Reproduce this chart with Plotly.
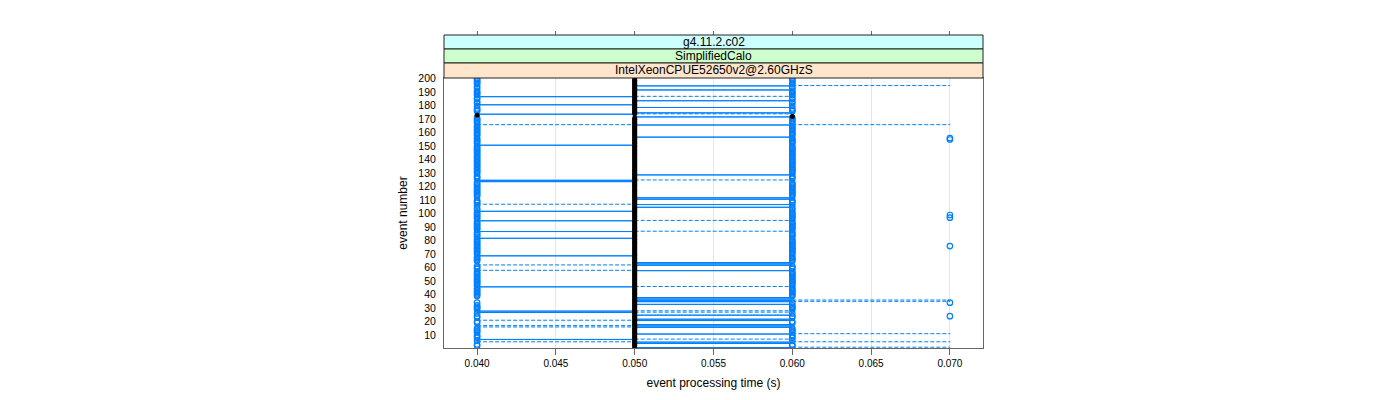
import plotly.graph_objects as go

# ---------------- data ----------------
events = list(range(1, 201))

# events whose box differs from the typical (all-at-0.050) one
special_events = [195, 192, 187, 184, 181, 179, 175, 174, 173, 172, 166, 157, 151, 129,
                  125, 124, 112, 111, 107, 105, 102, 95, 87, 82, 69, 64, 63, 62, 58, 46,
                  38, 37, 36, 35, 33, 28, 27, 25, 22, 21, 18, 17, 16, 11, 7, 5, 4, 1]
lower = [0.05, 0.05, 0.04, 0.05, 0.04, 0.05, 0.05, 0.04, 0.04, 0.05, 0.04, 0.05, 0.04, 0.05,
         0.04, 0.04, 0.05, 0.05, 0.04, 0.05, 0.04, 0.04, 0.04, 0.04, 0.04, 0.05, 0.05, 0.04, 0.04, 0.04,
         0.05, 0.05, 0.05, 0.05, 0.05, 0.04, 0.04, 0.05, 0.05, 0.04, 0.05, 0.04, 0.04, 0.05, 0.04, 0.04, 0.05, 0.05]
q1 = [0.05, 0.05, 0.04, 0.05, 0.04, 0.05, 0.05, 0.04, 0.04, 0.05, 0.05, 0.05, 0.04, 0.05,
      0.04, 0.04, 0.05, 0.05, 0.05, 0.05, 0.04, 0.04, 0.04, 0.04, 0.04, 0.05, 0.05, 0.05, 0.05, 0.04,
      0.05, 0.05, 0.05, 0.05, 0.05, 0.04, 0.04, 0.05, 0.05, 0.05, 0.05, 0.05, 0.05, 0.05, 0.04, 0.05, 0.05, 0.05]
median = [0.05, 0.05, 0.05, 0.05, 0.05, 0.05, 0.05, 0.05, 0.04, 0.06, 0.05, 0.05, 0.05, 0.05,
          0.05, 0.05, 0.05, 0.05, 0.05, 0.05, 0.05, 0.05, 0.05, 0.05, 0.05, 0.05, 0.05, 0.05, 0.05, 0.05,
          0.05, 0.05, 0.05, 0.05, 0.05, 0.05, 0.05, 0.05, 0.05, 0.05, 0.05, 0.05, 0.05, 0.05, 0.05, 0.05, 0.05, 0.05]
q3 = [0.06, 0.06, 0.05, 0.06, 0.05, 0.06, 0.06, 0.05, 0.04, 0.06, 0.06, 0.06, 0.05, 0.06,
      0.05, 0.05, 0.06, 0.06, 0.06, 0.06, 0.05, 0.05, 0.05, 0.05, 0.05, 0.06, 0.06, 0.06, 0.06, 0.05,
      0.06, 0.06, 0.06, 0.06, 0.06, 0.05, 0.05, 0.06, 0.06, 0.06, 0.06, 0.06, 0.06, 0.06, 0.05, 0.06, 0.06, 0.06]
upper = [0.07, 0.06, 0.06, 0.06, 0.05, 0.06, 0.06, 0.06, 0.04, 0.06, 0.07, 0.06, 0.05, 0.06,
         0.06, 0.05, 0.06, 0.06, 0.06, 0.06, 0.05, 0.06, 0.06, 0.05, 0.05, 0.06, 0.06, 0.06, 0.06, 0.06,
         0.06, 0.06, 0.07, 0.07, 0.06, 0.06, 0.06, 0.06, 0.06, 0.06, 0.06, 0.06, 0.06, 0.07, 0.06, 0.07, 0.06, 0.07]

# typical event: all quartiles at 0.050, points at 0.040 / 0.060 are outliers
typical_stat = 0.05
typical_outliers = [0.04, 0.06]
# extra outliers at 0.070
outlier07_events = [156, 155, 99, 97, 76, 34, 24]
outlier07_value = 0.07

x_ticks = [0.040, 0.045, 0.050, 0.055, 0.060, 0.065, 0.070]
x_ticklabels = ["0.040", "0.045", "0.050", "0.055", "0.060", "0.065", "0.070"]
y_ticks = list(range(10, 201, 10))
strip_labels = ["g4.11.2.c02", "SimplifiedCalo", "IntelXeonCPUE52650v2@2.60GHzS"]
strip_colors = ["#ccffff", "#ccffcc", "#ffe5cc"]

# ---------------- build summaries ----------------
stats = {}
for e in events:
    stats[e] = dict(lo=typical_stat, q1=typical_stat, med=typical_stat, q3=typical_stat,
                    hi=typical_stat, out=list(typical_outliers))
for i, e in enumerate(special_events):
    stats[e] = dict(lo=lower[i], q1=q1[i], med=median[i], q3=q3[i], hi=upper[i], out=[])
for e in outlier07_events:
    stats[e]["out"].append(outlier07_value)

BLUE = "#0080ff"
hw = 0.25
box_x, box_y, wh_x, wh_y, cap_x, cap_y = [], [], [], [], [], []
med_x, med_y, out_x, out_y = [], [], [], []
for e in events:
    s = stats[e]
    box_x += [s["q1"], s["q3"], s["q3"], s["q1"], s["q1"], None]
    box_y += [e - hw, e - hw, e + hw, e + hw, e - hw, None]
    if s["lo"] < s["q1"]:
        wh_x += [s["lo"], s["q1"], None]
        wh_y += [e, e, None]
        cap_x += [s["lo"], s["lo"], None]
        cap_y += [e - hw, e + hw, None]
    if s["hi"] > s["q3"]:
        wh_x += [s["q3"], s["hi"], None]
        wh_y += [e, e, None]
        cap_x += [s["hi"], s["hi"], None]
        cap_y += [e - hw, e + hw, None]
    med_x.append(s["med"])
    med_y.append(e)
    for o in s["out"]:
        out_x.append(o)
        out_y.append(e)

fig = go.Figure()
fig.add_trace(go.Scatter(x=wh_x, y=wh_y, mode="lines",
                         line=dict(color=BLUE, width=1, dash="4px,2px"), hoverinfo="skip"))
fig.add_trace(go.Scatter(x=cap_x, y=cap_y, mode="lines",
                         line=dict(color=BLUE, width=1), hoverinfo="skip"))
fig.add_trace(go.Scatter(x=box_x, y=box_y, mode="lines",
                         line=dict(color=BLUE, width=1), hoverinfo="skip"))
fig.add_trace(go.Scatter(x=out_x, y=out_y, mode="markers",
                         marker=dict(symbol="circle-open", size=5.5, color=BLUE, line=dict(width=1.2))))
fig.add_trace(go.Scatter(x=med_x, y=med_y, mode="markers",
                         marker=dict(symbol="circle", size=5, color="black", line=dict(width=0))))
# companion trace so the top tick axis exists
fig.add_trace(go.Scatter(x=[], y=[], xaxis="x2", yaxis="y", hoverinfo="skip"))

H_PLOT = 313.0
dom_top = 270.0 / H_PLOT
strip_bounds = [1.0, 299.0 / H_PLOT, 285.0 / H_PLOT, dom_top]

shapes = []
annotations = []
for i, (lab, col) in enumerate(zip(strip_labels, strip_colors)):
    y1 = strip_bounds[i]
    y0 = strip_bounds[i + 1]
    shapes.append(dict(type="rect", xref="paper", yref="paper", x0=0, x1=1, y0=y0, y1=y1,
                       fillcolor=col, line=dict(color="#222222", width=1), layer="above"))
    annotations.append(dict(xref="paper", yref="paper", x=0.5, y=(y0 + y1) / 2, text=lab,
                            showarrow=False, font=dict(size=12, color="black",
                                                       family="Liberation Sans, Arial, sans-serif"),
                            xanchor="center", yanchor="middle"))

x_range = [0.0379, 0.0721]
fig.update_layout(
    width=1400, height=400,
    margin=dict(l=436, r=425, t=27, b=60),
    paper_bgcolor="white", plot_bgcolor="white",
    showlegend=False,
    font=dict(family="Liberation Sans, Arial, sans-serif", color="black", size=10),
    shapes=shapes, annotations=annotations,
    xaxis=dict(range=x_range, tickvals=x_ticks, ticktext=x_ticklabels,
               ticks="outside", ticklen=6, tickcolor="#666666",
               showline=True, linecolor="#666666", linewidth=1, mirror=True,
               showgrid=True, gridcolor="#e6e6e6", gridwidth=1, zeroline=False,
               tickfont=dict(size=10),
               title=dict(text="event processing time (s)", font=dict(size=12), standoff=10)),
    xaxis2=dict(range=x_range, tickvals=x_ticks, overlaying="x", side="top", anchor="free",
                position=1.0, ticks="outside", ticklen=4, tickcolor="#666666",
                showticklabels=False, showline=False, showgrid=False, zeroline=False),
    yaxis=dict(range=[0.4, 200.6], domain=[0, dom_top], tickvals=y_ticks,
               ticks="", showline=True, linecolor="#666666", linewidth=1, mirror=True,
               showgrid=False, zeroline=False, tickfont=dict(size=10.5),
               ticklabelstandoff=5,
               title=dict(text="event number", font=dict(size=12), standoff=8)),
)

fig.write_html("out.html")
